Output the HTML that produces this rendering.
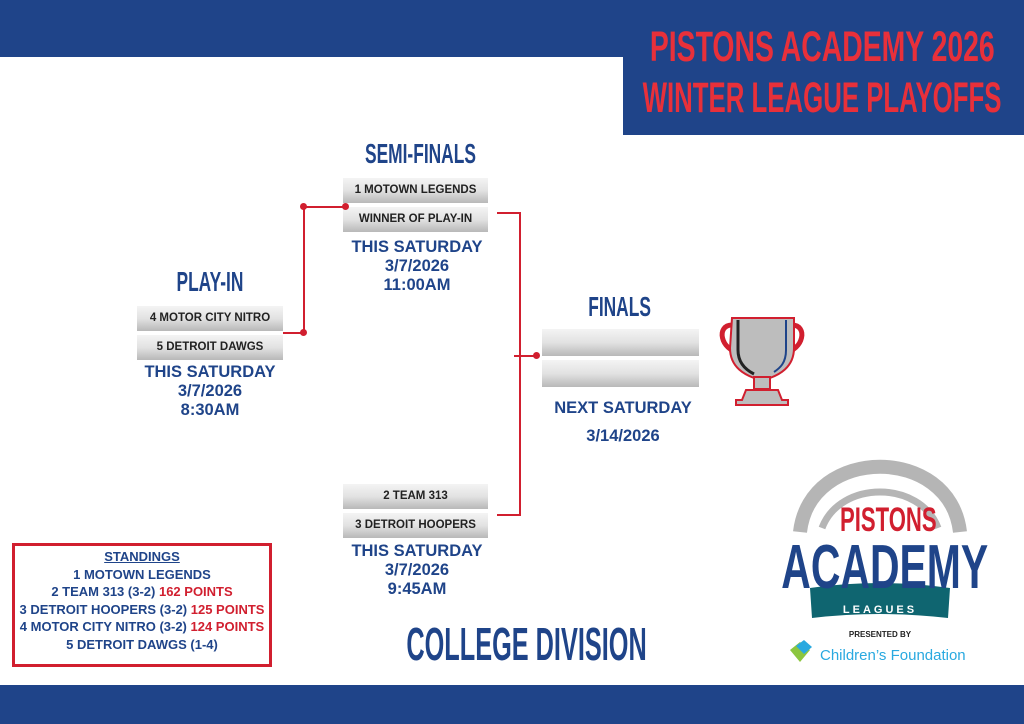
<!DOCTYPE html>
<html><head><meta charset="utf-8"><style>
*{margin:0;padding:0;box-sizing:border-box}
body{width:1024px;height:724px;position:relative;background:#fff;overflow:hidden;font-family:"Liberation Sans",sans-serif}
.a{position:absolute}
.c{position:absolute;text-align:center;white-space:nowrap;width:1000px}
.h{display:inline-block;font-weight:bold;transform:scaleX(.62);transform-origin:center}
.box{position:absolute;background:linear-gradient(#f4f4f4,#e2e2e2 50%,#b8b8b8);font-weight:bold;font-size:11.5px;color:#222;text-align:center;white-space:nowrap}
.d{position:absolute;text-align:center;color:#1f4489;font-weight:bold;font-size:16.5px;line-height:19px;white-space:nowrap}
.dot{position:absolute;width:7px;height:7px;border-radius:50%;background:#d11f2f}
.ln{position:absolute;background:#d11f2f}
</style></head><body>
<div class="a" style="left:0;top:0;width:1024px;height:57px;background:#1f4489"></div>
<div class="a" style="left:623px;top:0;width:401px;height:135px;background:#1f4489"></div>
<div class="a" style="left:0;top:685px;width:1024px;height:39px;background:#1f4489"></div>
<div class="c" style="left:322px;top:24px;font-size:43px;line-height:46px;color:#e8303a"><span class="h" style="transform:scaleX(.66)">PISTONS ACADEMY 2026</span></div>
<div class="c" style="left:322px;top:75px;font-size:43px;line-height:46px;color:#e8303a"><span class="h" style="transform:scaleX(.6)">WINTER LEAGUE PLAYOFFS</span></div>

<div class="c" style="left:-290px;top:266px;font-size:28px;line-height:32px;color:#1f4489"><span class="h">PLAY-IN</span></div>
<div class="c" style="left:-80px;top:138px;font-size:28px;line-height:32px;color:#1f4489"><span class="h">SEMI-FINALS</span></div>
<div class="c" style="left:120px;top:291px;font-size:28px;line-height:32px;color:#1f4489"><span class="h">FINALS</span></div>
<div class="c" style="left:27px;top:620px;font-size:46px;line-height:48px;color:#1f4489"><span class="h" style="transform:scaleX(.55)">COLLEGE DIVISION</span></div>

<div class="box" style="left:137px;top:306px;width:146px;height:25px;line-height:25px">4 MOTOR CITY NITRO</div>
<div class="box" style="left:137px;top:335px;width:146px;height:25px;line-height:25px">5 DETROIT DAWGS</div>
<div class="d" style="left:110px;width:200px;top:363px">THIS SATURDAY<br>3/7/2026<br>8:30AM</div>

<div class="box" style="left:343px;top:178px;width:145px;height:25px;line-height:25px">1 MOTOWN LEGENDS</div>
<div class="box" style="left:343px;top:207px;width:145px;height:25px;line-height:25px">WINNER OF PLAY-IN</div>
<div class="d" style="left:317px;width:200px;top:238px">THIS SATURDAY<br>3/7/2026<br>11:00AM</div>

<div class="box" style="left:343px;top:484px;width:145px;height:25px;line-height:25px">2 TEAM 313</div>
<div class="box" style="left:343px;top:513px;width:145px;height:25px;line-height:25px">3 DETROIT HOOPERS</div>
<div class="d" style="left:317px;width:200px;top:542px">THIS SATURDAY<br>3/7/2026<br>9:45AM</div>

<div class="box" style="left:542px;top:329px;width:157px;height:27px"></div>
<div class="box" style="left:542px;top:360px;width:157px;height:27px"></div>
<div class="d" style="left:523px;width:200px;top:394px;line-height:28px">NEXT SATURDAY<br>3/14/2026</div>

<div class="ln" style="left:283px;top:332px;width:21px;height:2px"></div>
<div class="ln" style="left:303px;top:207px;width:2px;height:126px"></div>
<div class="ln" style="left:303px;top:206px;width:42px;height:2px"></div>
<div class="dot" style="left:300px;top:329px"></div>
<div class="dot" style="left:300px;top:203px"></div>
<div class="dot" style="left:342px;top:203px"></div>
<div class="ln" style="left:497px;top:212px;width:24px;height:2px"></div>
<div class="ln" style="left:519px;top:212px;width:2px;height:304px"></div>
<div class="ln" style="left:497px;top:514px;width:24px;height:2px"></div>
<div class="ln" style="left:514px;top:355px;width:24px;height:2px"></div>
<div class="dot" style="left:533px;top:352px"></div>

<svg class="a" style="left:718px;top:308px" width="88" height="100" viewBox="0 0 88 100">
<path d="M14 17 C-2 17 2 42 22 45" fill="none" stroke="#d11f2f" stroke-width="5"/>
<path d="M74 17 C90 17 86 42 66 45" fill="none" stroke="#d11f2f" stroke-width="5"/>
<path d="M14 10 H76 V40 C76 60 60 67 52 70 H36 C28 67 12 60 12 40 Z" fill="#bdbdbd" stroke="#d11f2f" stroke-width="2"/>
<path d="M20 12 V42 C20 55 28 62 36 66" fill="none" stroke="#222" stroke-width="3"/>
<path d="M68 12 V42 C68 55 62 60 56 64" fill="none" stroke="#1f4489" stroke-width="2"/>
<rect x="36" y="69" width="16" height="12" fill="#bdbdbd" stroke="#d11f2f" stroke-width="2"/>
<path d="M28 82 H60 L64 92 H70 V97 H18 V92 H24 Z" fill="#bdbdbd" stroke="#d11f2f" stroke-width="2"/>
</svg>

<div class="a" style="left:12px;top:543px;width:260px;height:124px;border:3px solid #d11f2f"></div>
<div class="d" style="left:12px;width:260px;top:548px;font-size:13px;line-height:17.5px">
<span style="text-decoration:underline">STANDINGS</span><br>1 MOTOWN LEGENDS<br>2 TEAM 313 (3-2) <span style="color:#d11f2f">162 POINTS</span><br>3 DETROIT HOOPERS (3-2) <span style="color:#d11f2f">125 POINTS</span><br>4 MOTOR CITY NITRO (3-2) <span style="color:#d11f2f">124 POINTS</span><br>5 DETROIT DAWGS (1-4)</div>

<svg class="a" style="left:760px;top:450px" width="240" height="230" viewBox="0 0 240 230">
<path d="M40 82 C50 -5 190 -5 200 82" fill="none" stroke="#b5b5b5" stroke-width="14"/>
<path d="M62 78 C80 30 160 30 178 78" fill="none" stroke="#b5b5b5" stroke-width="7"/>
<path d="M50 138 Q120 128 190 138 L188 168 Q120 160 52 168 Z" fill="#0f6570"/>
<path d="M30 200 L40 192 L50 200 L40 212 Z" fill="#8cc63f"/>
<path d="M36 196 L44 190 L52 197 L44 204 Z" fill="#29a9e0"/>
</svg>
<div class="c" style="left:388px;top:502px;font-size:34px;line-height:36px;color:#d11f2f"><span class="h" style="transform:scaleX(.65)">PISTONS</span></div>
<div class="c" style="left:385px;top:536px;font-size:62px;line-height:64px;color:#1f4489"><span class="h" style="transform:scaleX(.66)">ACADEMY</span></div>
<div class="c" style="left:380px;top:603px;font-size:11px;line-height:14px;color:#fff;font-weight:bold;letter-spacing:3px">LEAGUES</div>
<div class="c" style="left:380px;top:630px;font-size:8px;line-height:10px;color:#222;font-weight:bold">PRESENTED BY</div>
<div class="a" style="left:820px;top:646px;font-size:15px;line-height:20px;color:#29a9e0;white-space:nowrap">Children’s Foundation</div>
</body></html>
